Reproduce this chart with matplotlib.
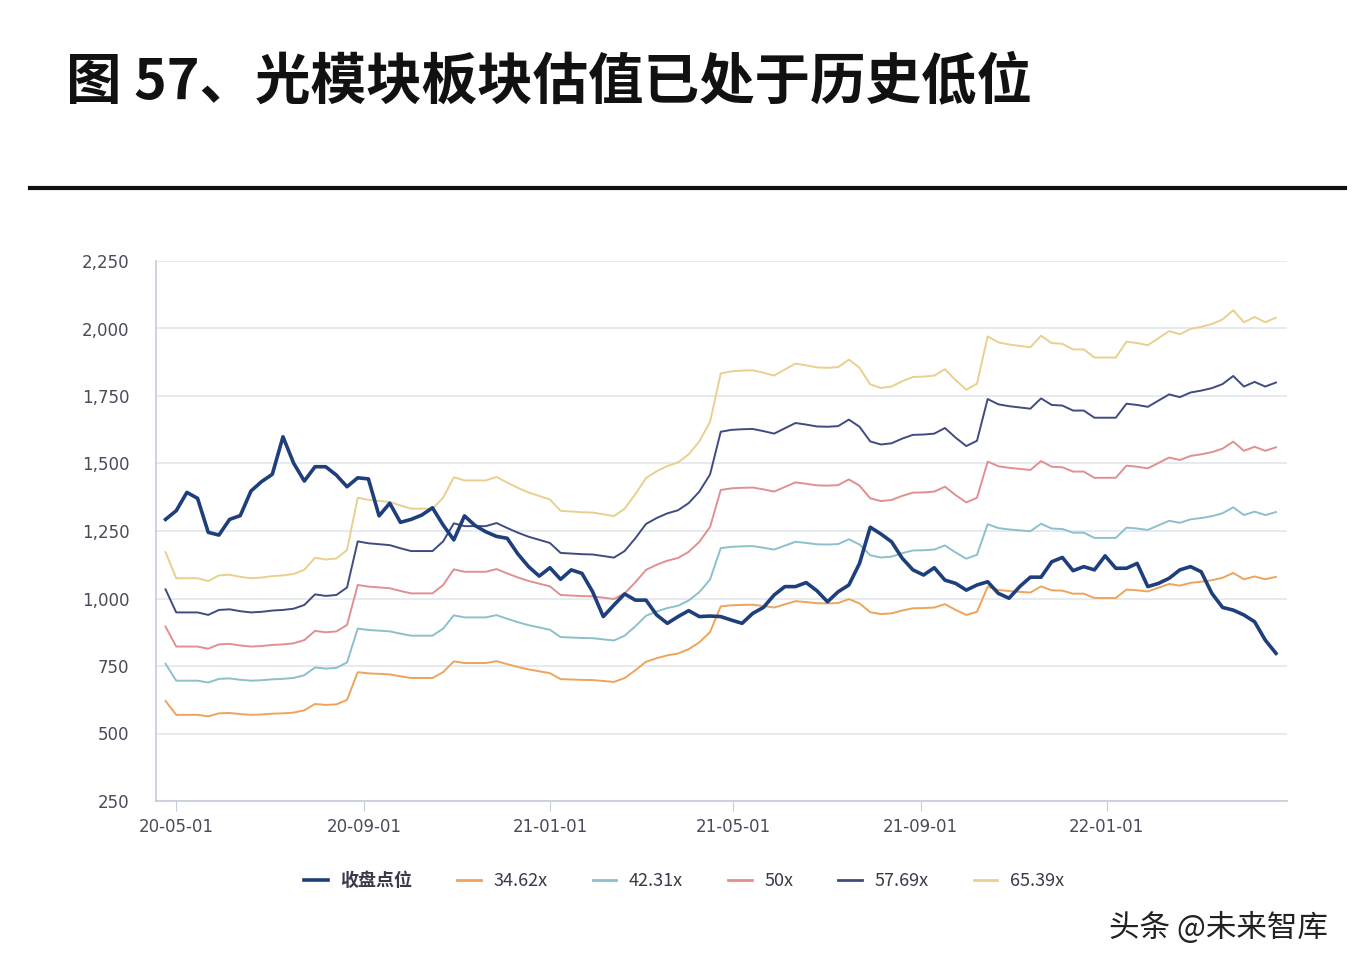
import matplotlib
matplotlib.use("Agg")
import matplotlib.pyplot as plt
import matplotlib.dates as mdates
import pandas as pd
import numpy as np

plt.rcParams['font.family'] = ['Noto Sans CJK SC', 'DejaVu Sans']

# ---- data (weekly) ----
start_date = "2020-04-24"
close = [1293, 1325, 1393, 1371, 1245, 1235, 1293, 1307, 1398, 1433,
         1460, 1599, 1501, 1435, 1488, 1488, 1457, 1414, 1447, 1443,
         1306, 1353, 1282, 1293, 1309, 1336, 1272, 1217, 1306, 1270,
         1247, 1230, 1223, 1165, 1118, 1083, 1114, 1071, 1106, 1093,
         1025, 933, 976, 1017, 994, 994, 939, 908, 933, 955,
         933, 935, 933, 920, 908, 945, 967, 1013, 1044, 1044,
         1059, 1029, 988, 1025, 1050, 1130, 1264, 1239, 1210, 1149,
         1106, 1087, 1114, 1068, 1056, 1031, 1050, 1062, 1019, 1001,
         1044, 1079, 1079, 1136, 1152, 1103, 1118, 1106, 1158, 1112,
         1112, 1130, 1044, 1056, 1075, 1106, 1118, 1099, 1019, 967,
         957, 939, 914, 846, 797]

# 50x PE band values (index points)
band_50x = [896, 822, 822, 822, 814, 830, 832, 826, 822, 824,
            828, 830, 834, 846, 880, 875, 878, 902, 1050, 1044,
            1041, 1038, 1028, 1019, 1019, 1019, 1050, 1108, 1099, 1099,
            1099, 1109, 1093, 1078, 1065, 1055, 1045, 1013, 1011, 1009,
            1008, 1003, 998, 1019, 1060, 1106, 1125, 1140, 1150, 1173,
            1210, 1265, 1402, 1408, 1410, 1411, 1404, 1396, 1413, 1430,
            1425, 1419, 1418, 1420, 1441, 1418, 1371, 1361, 1365, 1380,
            1392, 1393, 1396, 1414, 1383, 1356, 1373, 1507, 1490, 1484,
            1480, 1476, 1509, 1488, 1486, 1470, 1470, 1447, 1447, 1447,
            1492, 1488, 1482, 1502, 1522, 1513, 1528, 1534, 1542, 1555,
            1581, 1547, 1562, 1547, 1560]

multiples = [34.62, 42.31, 50.0, 57.69, 65.39]
band_labels = ["34.62x", "42.31x", "50x", "57.69x", "65.39x"]
close_label = "收盘点位"

yticks = [250, 500, 750, 1000, 1250, 1500, 1750, 2000, 2250]
xtick_dates = ["2020-05-01", "2020-09-01", "2021-01-01", "2021-05-01", "2021-09-01", "2022-01-01"]
xtick_labels = ["20-05-01", "20-09-01", "21-01-01", "21-05-01", "21-09-01", "22-01-01"]

title = "图 57、光模块板块估值已处于历史低位"
watermark = "头条 @未来智库"

# ---- styles ----
close_color = "#1e3f7c"
band_colors = ["#eea45a", "#8cc0cb", "#e09090", "#3f4c7e", "#e8d08e"]
grid_color = "#e3e7ee"
spine_color = "#c5ccd8"
tick_text = "#4a4a5a"

dates = pd.date_range(start_date, periods=len(close), freq="7D")
eps = np.array(band_50x) / 50.0

fig = plt.figure(figsize=(13.56, 9.72), dpi=100)
fig.patch.set_facecolor("white")
ax = fig.add_axes([156/1356, 1-801/972, (1287-156)/1356, (801-261)/972])

line_close, = ax.plot(dates, close, color=close_color, lw=2.6, label=close_label, zorder=5)
band_lines = []
for m, lab, c in zip(multiples, band_labels, band_colors):
    l, = ax.plot(dates, eps * m, color=c, lw=1.4, label=lab, zorder=3)
    band_lines.append(l)

ax.set_ylim(250, 2250)
ax.set_yticks(yticks)
ax.set_yticklabels([f"{v:,}" for v in yticks], fontsize=12, color=tick_text, family="DejaVu Sans")
ax.set_xlim(pd.Timestamp("2020-04-17 18:00"), pd.Timestamp("2022-04-29 06:00"))
ax.set_xticks([pd.Timestamp(d) for d in xtick_dates])
ax.set_xticklabels(xtick_labels, fontsize=12, color=tick_text, family="DejaVu Sans")

ax.grid(axis="y", color=grid_color, lw=1.2)
ax.set_axisbelow(True)
for s in ["top", "right"]:
    ax.spines[s].set_visible(False)
for s in ["left", "bottom"]:
    ax.spines[s].set_color(spine_color)
    ax.spines[s].set_linewidth(1.2)
ax.tick_params(axis="y", length=0, pad=19)
ax.tick_params(axis="x", length=7, color=spine_color, pad=5, direction="out")

handles = [line_close] + band_lines
labels = [close_label] + band_labels
leg = ax.legend(handles, labels, loc="center", bbox_to_anchor=(0.467, -0.148),
                ncol=6, frameon=False, fontsize=13, handlelength=1.3,
                handletextpad=0.7, columnspacing=2.5)
for t in leg.get_texts():
    t.set_color("#3a3a4a")
leg.get_texts()[0].set_fontweight("bold")
for h in leg.get_lines():
    h.set_linewidth(2.0)
leg.get_lines()[0].set_linewidth(2.6)

fig.text(66/1356, 1-82/972, title, fontsize=40, fontweight="bold", va="center", ha="left", color="#111111")
fig.add_artist(plt.Line2D([30/1356, 1345/1356], [1-188/972, 1-188/972], color="#111111", lw=3))
fig.text(1328/1356, 1-928/972, watermark, fontsize=22, ha="right", va="center", color="#222222")

fig.savefig("out.png", dpi=100, facecolor="white")
